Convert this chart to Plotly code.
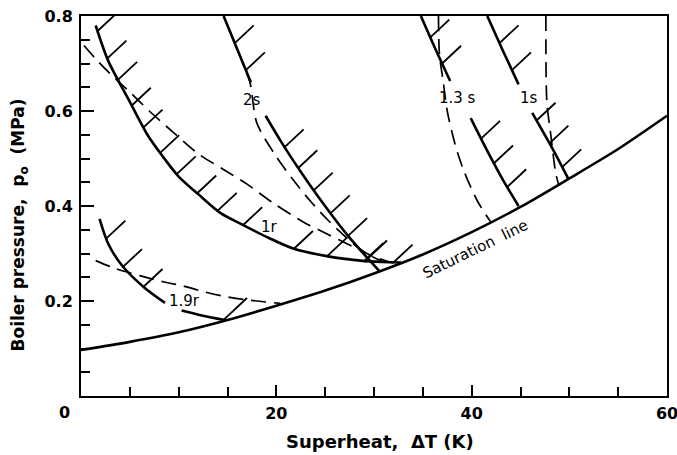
import numpy as np
import plotly.graph_objects as go

# ---------------- data ----------------
# saturation line
sat_x = [0, 5, 10, 15, 20, 25, 30, 35, 40, 45, 50, 55, 60]
sat_p = [0.097, 0.114, 0.134, 0.160, 0.190, 0.222, 0.258, 0.298, 0.345, 0.398, 0.458, 0.520, 0.590]

# 1r (solid and dashed)
r1_x = [1.5, 2.8, 4.8, 6.8, 8.2, 10.0, 12.0, 14.3, 16.6, 19.0, 21.8, 25.3, 28.6, 30.8, 32.8]
r1_p = [0.78, 0.705, 0.627, 0.55, 0.509, 0.462, 0.425, 0.385, 0.36, 0.335, 0.31, 0.294, 0.285, 0.282, 0.281]
r1d_x = [0.3, 1.5, 3.0, 5.0, 7.0, 9.5, 12.0, 14.5, 17.0, 19.7, 22.8, 25.2, 27.5, 30.0, 32.0]
r1d_p = [0.738, 0.71, 0.678, 0.64, 0.60, 0.554, 0.51, 0.478, 0.446, 0.406, 0.366, 0.341, 0.318, 0.293, 0.28]

# 1.9r (solid in two pieces around the label, and dashed)
r19a_x = [1.9, 2.8, 4.3, 6.5, 8.6]
r19a_p = [0.373, 0.32, 0.272, 0.228, 0.196]
r19b_x = [10.3, 12.5, 14.7]
r19b_p = [0.180, 0.169, 0.160]
r19d_x = [1.5, 3.3, 6.1, 8.5, 10.4, 12.5, 14.6, 17.1, 20.4]
r19d_p = [0.285, 0.27, 0.253, 0.24, 0.232, 0.22, 0.21, 0.202, 0.195]

# 2s
s2a_x = [14.6, 16.0, 17.4]
s2a_p = [0.80, 0.73, 0.66]
s2b_x = [18.9, 20.5, 22.5, 24.2, 27.3, 30.6]
s2b_p = [0.59, 0.535, 0.472, 0.422, 0.338, 0.262]
s2d_x = [15.2, 16.2, 17.3, 18.0, 19.8, 21.8, 23.5, 25.3, 27.8, 29.3, 30.8]
s2d_p = [0.77, 0.72, 0.66, 0.575, 0.51, 0.453, 0.41, 0.37, 0.322, 0.299, 0.284]

# 1.3s
s13a_x = [34.8, 36.3, 37.8]
s13a_p = [0.80, 0.73, 0.663]
s13b_x = [39.9, 41.6, 43.2, 44.8]
s13b_p = [0.585, 0.516, 0.455, 0.40]
s13d_x = [36.6, 36.7, 37.1, 37.5, 38.3, 39.2, 40.6, 42.0]
s13d_p = [0.80, 0.72, 0.66, 0.60, 0.53, 0.474, 0.41, 0.365]

# 1s
s1a_x = [41.6, 43.2, 44.8]
s1a_p = [0.80, 0.727, 0.656]
s1b_x = [46.2, 48.4, 49.9]
s1b_p = [0.596, 0.516, 0.457]
s1d_x = [47.6, 47.7, 48.1, 48.6, 48.9]
s1d_p = [0.80, 0.62, 0.55, 0.47, 0.445]

# hatch positions (x for the r-curves, pressure for the s-lines)
r1_hatch_x = [1.7, 2.7, 3.8, 5.2, 6.4, 8.1, 9.8, 11.9, 14.0, 16.6, 21.8, 25.2, 29.0, 32.0]
r19a_hatch_x = [2.6, 4.3, 6.4]
r19b_hatch_x = [14.6]
s2a_hatch_p = [0.743, 0.686]
s2b_hatch_p = [0.524, 0.48, 0.433, 0.385, 0.337, 0.29]
s13a_hatch_p = [0.755, 0.70]
s13b_hatch_p = [0.542, 0.49, 0.44]
s1a_hatch_p = [0.743, 0.686]
s1b_hatch_p = [0.58, 0.532, 0.482]

# ---------------- layout geometry ----------------
W, H = 677, 455
ML, MR, MT, MB = 81, 10, 16, 59
XR = (0, 60)
YR = (0, 0.8)
sx = (W - ML - MR) / (XR[1] - XR[0])   # px per K
sy = (H - MT - MB) / (YR[1] - YR[0])   # px per MPa

HL = 26.0            # hatch length in px
HA = np.deg2rad(43)  # hatch angle

hx, hy = [], []


def add_hatch(bx, by, length=HL):
    hx.extend([bx, bx + length * np.cos(HA) / sx, None])
    hy.extend([by, by + length * np.sin(HA) / sy, None])


def hatch_by_x(cx, cp, xs, length=HL):
    for x in xs:
        add_hatch(x, float(np.interp(x, cx, cp)), length)


def hatch_by_p(cx, cp, ps, length=HL):
    for p in ps:
        add_hatch(float(np.interp(p, cp[::-1], cx[::-1])), p, length)


hatch_by_x(r1_x, r1_p, r1_hatch_x)
hatch_by_x(r19a_x, r19a_p, r19a_hatch_x)
hatch_by_x(r19b_x, r19b_p, r19b_hatch_x, length=32)
hatch_by_p(s2a_x, s2a_p, s2a_hatch_p)
hatch_by_p(s2b_x, s2b_p, s2b_hatch_p)
hatch_by_p(s13a_x, s13a_p, s13a_hatch_p)
hatch_by_p(s13b_x, s13b_p, s13b_hatch_p)
hatch_by_p(s1a_x, s1a_p, s1a_hatch_p)
hatch_by_p(s1b_x, s1b_p, s1b_hatch_p)

fig = go.Figure()

SOLID = dict(color="black", width=2.6)
DASH = dict(color="black", width=1.7, dash="15px,8px")


def curve(x, y, line, shape="spline"):
    fig.add_trace(go.Scatter(x=x, y=y, mode="lines", line=dict(**line, shape=shape, smoothing=0.8),
                             hoverinfo="skip", showlegend=False, cliponaxis=True))


curve(sat_x, sat_p, SOLID)
curve(r1_x, r1_p, SOLID)
curve(r1d_x, r1d_p, DASH)
curve(r19a_x, r19a_p, SOLID)
curve(r19b_x, r19b_p, SOLID)
curve(r19d_x, r19d_p, DASH)
for xa, pa in [(s2a_x, s2a_p), (s2b_x, s2b_p), (s13a_x, s13a_p), (s13b_x, s13b_p),
               (s1a_x, s1a_p), (s1b_x, s1b_p)]:
    curve(xa, pa, SOLID)
for xa, pa in [(s2d_x, s2d_p), (s13d_x, s13d_p), (s1d_x, s1d_p)]:
    curve(xa, pa, DASH)

fig.add_trace(go.Scatter(x=hx, y=hy, mode="lines", line=dict(color="black", width=1.8),
                         hoverinfo="skip", showlegend=False, connectgaps=False))

FONT = "DejaVu Sans"
lab = dict(showarrow=False, font=dict(family=FONT, size=15, color="black"))
fig.add_annotation(x=17.5, y=0.623, text="2s", **lab)
fig.add_annotation(x=38.6, y=0.627, text="1.3 s", **lab)
fig.add_annotation(x=45.9, y=0.627, text="1s", **lab)
fig.add_annotation(x=19.3, y=0.355, text="1r", **lab)
fig.add_annotation(x=10.6, y=0.201, text="1.9r", **lab)
fig.add_annotation(x=40.4, y=0.309, text="Saturation  line", textangle=-26, **lab)

# origin label and axis titles
TICKFONT = dict(family=FONT, size=16, color="black", weight="bold")
fig.add_annotation(x=0, y=0, text="0", xshift=-17, yshift=-16, showarrow=False, font=TICKFONT)
fig.add_annotation(xref="paper", yref="paper", x=0.51, y=-0.12, yanchor="middle",
                   text="Superheat,  ΔT (K)", showarrow=False,
                   font=dict(family=FONT, size=18, color="black", weight="bold"))
fig.add_annotation(xref="paper", yref="paper", x=-0.105, y=0.45, xanchor="center",
                   text="Boiler pressure,  p<sub>o</sub>  (MPa)", textangle=-90, showarrow=False,
                   font=dict(family=FONT, size=17, color="black", weight="bold"))

fig.update_layout(
    width=W, height=H,
    margin=dict(l=ML, r=MR, t=MT, b=MB, autoexpand=False),
    paper_bgcolor="white", plot_bgcolor="white",
    showlegend=False,
    xaxis=dict(range=list(XR), showgrid=False, zeroline=False, automargin=False,
               showline=True, linecolor="black", linewidth=2, mirror=True,
               tickvals=[0, 20, 40, 60], ticktext=["", "20", "40", "60"],
               ticks="inside", ticklen=11, tickwidth=1.5, tickcolor="black",
               minor=dict(dtick=5, ticks="inside", ticklen=9, tickwidth=1.5, tickcolor="black"),
               tickfont=TICKFONT, ticklabelstandoff=2, ticklabeloverflow="allow"),
    yaxis=dict(range=list(YR), showgrid=False, zeroline=False, automargin=False,
               showline=True, linecolor="black", linewidth=2, mirror=True,
               tickvals=[0.2, 0.4, 0.6, 0.8], ticktext=["0.2", "0.4", "0.6", "0.8"],
               ticks="inside", ticklen=13, tickwidth=1.8, tickcolor="black",
               minor=dict(dtick=0.05, ticks="inside", ticklen=9, tickwidth=1.5, tickcolor="black"),
               tickfont=TICKFONT, ticklabelstandoff=3, ticklabeloverflow="allow"),
)

fig.write_html("out.html", config={"displayModeBar": False},
               post_script="document.body.style.margin='0px';document.body.style.padding='0px';")
